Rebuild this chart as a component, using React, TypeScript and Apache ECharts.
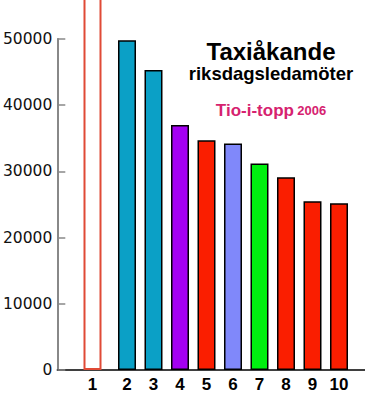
import React, { useEffect, useRef } from "react";
import * as echarts from "echarts";

const categories = ["1", "2", "3", "4", "5", "6", "7", "8", "9", "10"];
const values = [80000, 49800, 45300, 37000, 34700, 34200, 31200, 29100, 25500, 25200];
const barColors = ["#ffffff", "#0ba0c6", "#0ba0c6", "#a400f2", "#fa1e00", "#8088fa", "#00f010", "#fa1e00", "#fa1e00", "#fa1e00"];
const yTicks = [0, 10000, 20000, 30000, 40000, 50000];

export default function App() {
  const ref = useRef<HTMLDivElement>(null);
  useEffect(() => {
    if (!ref.current) return;
    const chart = echarts.init(ref.current, null, { renderer: "svg" });
    const labelStyle = {
      show: true,
      position: "insideBottom",
      distance: 0,
      offset: [0, 23],
      fontFamily: "Liberation Sans, Arial, sans-serif",
      fontWeight: "bold",
      fontSize: 17,
      color: "#000",
      formatter: (p: any) => categories[p.dataIndex],
    };
    const dataA = values.map((v, i) =>
      i === 0
        ? { value: v, itemStyle: { color: barColors[i], borderColor: "#e04a36", borderWidth: 2 } }
        : "-"
    );
    const dataB = values.map((v, i) =>
      i === 0
        ? "-"
        : { value: v, itemStyle: { color: barColors[i], borderColor: "#000", borderWidth: 1.5 } }
    );
    chart.setOption({
      animation: false,
      backgroundColor: "#ffffff",
      grid: [
        { left: 54, right: 0, top: 39, bottom: 25 },
        { left: 83.25, right: 16.75, top: 39, bottom: 25 },
      ],
      xAxis: [
        {
          gridIndex: 0,
          type: "value",
          min: 0,
          max: 1,
          axisLine: { show: true, lineStyle: { color: "#000", width: 1.5 } },
          axisTick: { show: false },
          axisLabel: { show: false },
          splitLine: { show: false },
        },
        {
          gridIndex: 1,
          type: "category",
          data: categories,
          axisLine: { show: false },
          axisTick: { show: false },
          axisLabel: { show: false },
        },
      ],
      yAxis: [
        {
          gridIndex: 0,
          type: "value",
          min: yTicks[0],
          max: yTicks[yTicks.length - 1],
          interval: 10000,
          axisLine: { show: true, lineStyle: { color: "#888", width: 2 } },
          axisTick: { show: true, inside: true, length: 8, lineStyle: { color: "#888", width: 1.5 } },
          axisLabel: {
            margin: 5,
            fontFamily: "DejaVu Sans, sans-serif",
            fontSize: 15.5,
            color: "#111",
            formatter: (v: number) => String(v),
          },
          splitLine: { show: false },
        },
        {
          gridIndex: 1,
          type: "value",
          min: yTicks[0],
          max: yTicks[yTicks.length - 1],
          show: false,
          splitLine: { show: false },
        },
      ],
      series: [
        {
          type: "bar",
          xAxisIndex: 1,
          yAxisIndex: 1,
          barWidth: 18,
          barGap: "-55.56%",
          clip: false,
          data: dataA,
          label: labelStyle,
          z: 1,
        },
        {
          type: "bar",
          xAxisIndex: 1,
          yAxisIndex: 1,
          barWidth: 18,
          barGap: "-55.56%",
          clip: false,
          data: dataB,
          label: labelStyle,
          z: 1,
        },
      ],
      graphic: [
        {
          type: "text",
          x: 271,
          y: 51,
          style: {
            text: "Taxiåkande",
            textAlign: "center",
            textVerticalAlign: "middle",
            fontFamily: "Liberation Sans, Arial, sans-serif",
            fontWeight: "bold",
            fontSize: 24,
            lineHeight: 24,
            fill: "#000",
          },
        },
        {
          type: "text",
          x: 271,
          y: 73,
          style: {
            text: "riksdagsledamöter",
            textAlign: "center",
            textVerticalAlign: "middle",
            fontFamily: "Liberation Sans, Arial, sans-serif",
            fontWeight: "bold",
            fontSize: 18.5,
            lineHeight: 19,
            fill: "#000",
          },
        },
        {
          type: "text",
          x: 271,
          y: 110,
          style: {
            text: "{a|Tio-i-topp} {b|2006}",
            textAlign: "center",
            textVerticalAlign: "middle",
            rich: {
              a: {
                fontFamily: "Liberation Sans, Arial, sans-serif",
                fontWeight: "bold",
                fontSize: 17,
                fill: "#d6226f",
                color: "#d6226f",
              },
              b: {
                fontFamily: "Liberation Sans, Arial, sans-serif",
                fontWeight: "bold",
                fontSize: 13,
                fill: "#d6226f",
                color: "#d6226f",
              },
            },
          },
        },
      ],
    });
    return () => chart.dispose();
  }, []);
  return <div ref={ref} style={{ width: 365, height: 395, position: "absolute", left: 0, top: 0 }} />;
}
